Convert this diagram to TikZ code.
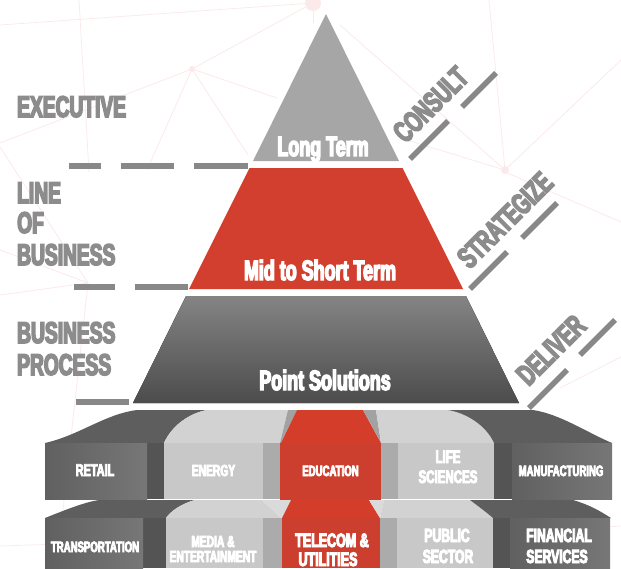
\documentclass[tikz,border=0pt]{standalone}
\usepackage{fontspec}
\newfontfamily\cf[FakeStretch=0.64,FakeBold=5]{Liberation Sans Bold}
\newcommand\tilef[1]{\cf\fontsize{#1}{#1}\selectfont}
\definecolor{netpink}{HTML}{FCEAEA}
\definecolor{lbl}{HTML}{8C8C8C}
\definecolor{dashgray}{HTML}{888888}
\definecolor{pyrtop}{HTML}{A6A6A6}
\definecolor{pyrred}{HTML}{D23F2E}
\definecolor{pyrlo}{HTML}{848484}
\definecolor{pyrlob}{HTML}{4C4C4C}
\definecolor{dkf}{HTML}{6B6B6B}
\definecolor{dkt}{HTML}{5E5E5E}
\definecolor{dks}{HTML}{545454}
\definecolor{ltf}{HTML}{C8C8C8}
\definecolor{ltt}{HTML}{D2D2D2}
\definecolor{lts}{HTML}{ABABAB}
\definecolor{ltstripe}{HTML}{A2A2A2}
\definecolor{rdf}{HTML}{CC3F2E}
\definecolor{rdt}{HTML}{D53D2B}
\tikzset{
  netline/.style={netpink, line width=0.8pt},
  lefttxt/.style={text=lbl, anchor=base west, inner sep=0pt, font=\tilef{30}},
  diagtxt/.style={text=lbl, rotate=45, inner sep=0pt, font=\tilef{30}},
  pyrtxt/.style={text=white, anchor=base, inner sep=0pt, font=\tilef{28}},
  tiletxt/.style={text=white, anchor=base, inner sep=0pt},
  dashbar/.style={dashgray, line width=6pt},
  diagbar/.style={dashgray, line width=5.5pt},
}
\begin{document}
\begin{tikzpicture}[x=1pt,y=-1pt]
\useasboundingbox (0,0) rectangle (621,568);
\fill[white] (0,0) rectangle (621,568);

% background network
\draw[netline] (0,25) -- (313,3);
\draw[netline] (79,0) -- (89,172);
\draw[netline] (192,69) -- (313,3);
\draw[netline] (192,69) -- (0,143);
\draw[netline] (192,69) -- (147,170);
\draw[netline] (192,69) -- (248,155);
\draw[netline] (192,69) -- (277,98);
\draw[netline] (0,147) -- (88,283);
\draw[netline] (0,250) -- (88,283);
\draw[netline] (0,295) -- (88,283);
\draw[netline] (88,283) -- (63,510);
\draw[netline] (313,3) -- (313,23);
\draw[netline] (340,25) -- (505,170);
\draw[netline] (489,0) -- (505,170);
\draw[netline] (505,170) -- (621,60);
\draw[netline] (400,138) -- (505,170);
\draw[netline] (505,172) -- (621,222);
\draw[netline] (560,388) -- (621,357);
\draw[netline] (0,546) -- (91,543);
\draw[netline] (594,528) -- (621,526);
\fill[netpink] (313,3) circle (8);
\fill[netpink] (192,69) circle (3);
\fill[netpink] (505,170) circle (4);

% pyramid
\fill[pyrtop] (326,14) -- (399,161) -- (253,161) -- cycle;
\fill[pyrred] (249.5,168) -- (402.5,168) -- (463,289) -- (189,289) -- cycle;
\fill[top color=pyrlo, bottom color=pyrlob] (186,296) -- (466,296) -- (519,403) -- (133,403) -- cycle;
\node[pyrtxt] (lt) at (323,156) {Long Term};
\node[pyrtxt] (ms) at (320,280) {Mid to Short Term};
\node[pyrtxt] (ps) at (325,390) {Point Solutions};

% left labels
\node[lefttxt] (ex) at (17,117) {EXECUTIVE};
\node[lefttxt] (lob1) at (17,203) {LINE};
\node[lefttxt] (lob2) at (17,233) {OF};
\node[lefttxt] (lob3) at (17,265) {BUSINESS};
\node[lefttxt] (bp1) at (17,343) {BUSINESS};
\node[lefttxt] (bp2) at (17,375) {PROCESS};

% dashed separators
\draw[dashbar] (69,166) -- (101,166);
\draw[dashbar] (121,166) -- (174,166);
\draw[dashbar] (194,166) -- (248,166);
\draw[dashbar] (74,287) -- (115,287);
\draw[dashbar] (135,287) -- (188,287);
\draw[dashbar] (76,401.5) -- (129,401.5);

% diagonal labels
\node[diagtxt] (consult) at (430.5,104.5) {CONSULT};
\node[diagtxt] (strat) at (505,220) {STRATEGIZE};
\node[diagtxt] (deliver) at (551,350) {DELIVER};
\draw[diagbar] (410,159) -- (448,121);
\draw[diagbar] (462,107) -- (496,73);
\draw[diagbar] (470,289) -- (507,252);
\draw[diagbar] (522,238) -- (557,203);
\draw[diagbar] (529,408) -- (567,370);
\draw[diagbar] (580,355) -- (615,320);

% ---- tiles row 1: top faces
\fill[dkt] (45,443) .. controls (80,435) and (105,414) .. (137,410) -- (207,410)
   .. controls (190,413) and (172,425) .. (164,443) -- cycle;
\fill[ltt] (164,443) .. controls (172,425) and (190,413) .. (207,410) -- (288,410)
   -- (280,443) -- cycle;
\fill[ltstripe] (280,443) -- (288,410) -- (297,410) -- (281,443) -- cycle;
\fill[rdt] (281,443) -- (297,410) -- (363,410) -- (381,443) -- cycle;
\fill[ltstripe] (363,410) -- (376,410) -- (381,443) -- cycle;
\fill[ltt] (381,443) -- (376,410) -- (448,410)
   .. controls (466,413) and (486,425) .. (494,443) -- cycle;
\fill[dkt] (494,443) .. controls (486,425) and (466,413) .. (448,410) -- (533,410)
   .. controls (560,414) and (588,433) .. (612,443) -- cycle;
% side faces
\fill[dks] (147,443) rectangle (164,499);
\fill[lts] (263,443) rectangle (280,499);
\fill[lts] (381,443) rectangle (398,499);
\fill[dks] (494,443) rectangle (512,499);

% ---- tiles row 2: top faces
\fill[dkt] (45,518) .. controls (65,510) and (85,502) .. (99,500) -- (195,500)
   .. controls (180,504) and (170,512) .. (166,518) -- cycle;
\fill[ltt] (166,518) .. controls (170,512) and (180,504) .. (195,500) -- (262,500) -- (281,518) -- cycle;
\fill[ltstripe!40] (262,500) -- (291,500) -- (282,518) -- (281,518) -- cycle;
\fill[rdt] (282,518) -- (291,500) -- (369,500) -- (380,518) -- cycle;
\fill[ltstripe!40] (369,500) -- (384,500) -- (380,518) -- cycle;
\fill[ltt] (380,518) -- (384,500) -- (470,500) .. controls (478,506) and (486,512) .. (493,518) -- cycle;
\fill[dkt] (493,518) .. controls (486,512) and (478,506) .. (470,500) -- (573,500)
   .. controls (590,505) and (600,511) .. (611,518) -- cycle;
\fill[dks] (143,518) rectangle (166,568);
\fill[lts] (263,518) rectangle (282,568);
\fill[lts] (380,518) rectangle (397,568);
\fill[dks] (493,518) rectangle (510,568);

% ---- front faces
\fill[left color=dkf!90!black, right color=dkf!92] (45,443) rectangle (147,499);
\fill[ltf] (164,443) rectangle (263,499);
\fill[rdf] (280,443) rectangle (381,500);
\fill[ltf] (398,443) rectangle (494,499);
\fill[left color=dkf!90!black, right color=dkf!92] (512,443) rectangle (612,499);
\fill[left color=dkf!90!black, right color=dkf!92] (45,518) rectangle (143,568);
\fill[ltf] (166,518) rectangle (263,568);
\fill[rdf] (282,518) rectangle (380,568);
\fill[ltf] (397,518) rectangle (493,568);
\fill[left color=dkf!90!black, right color=dkf!92] (510,518) rectangle (610,568);

% tile texts
\node[tiletxt, font=\tilef{17}] (retail) at (95,476) {RETAIL};
\node[tiletxt, font=\tilef{16}] (energy) at (213.5,476) {ENERGY};
\node[tiletxt, font=\tilef{15}] (edu) at (330.5,476) {EDUCATION};
\node[tiletxt, font=\tilef{18}] (life1) at (448,463) {LIFE};
\node[tiletxt, font=\tilef{18}] (life2) at (448,483) {SCIENCES};
\node[tiletxt, font=\tilef{15}] (manu) at (561,476) {MANUFACTURING};
\node[tiletxt, font=\tilef{15}] (trans) at (95,552) {TRANSPORTATION};
\node[tiletxt, font=\tilef{16}] (media1) at (213,547) {MEDIA \&};
\node[tiletxt, font=\tilef{16}] (media2) at (213,562) {ENTERTAINMENT};
\node[tiletxt, font=\tilef{19.5}] (tel1) at (332,547) {TELECOM \&};
\node[tiletxt, font=\tilef{19.5}] (tel2) at (328,566) {UTILITIES};
\node[tiletxt, font=\tilef{19}] (pub1) at (447,542) {PUBLIC};
\node[tiletxt, font=\tilef{19}] (pub2) at (448,563) {SECTOR};
\node[tiletxt, font=\tilef{19}] (fin1) at (559,542) {FINANCIAL};
\node[tiletxt, font=\tilef{19}] (fin2) at (557,563) {SERVICES};
\end{tikzpicture}
\end{document}
